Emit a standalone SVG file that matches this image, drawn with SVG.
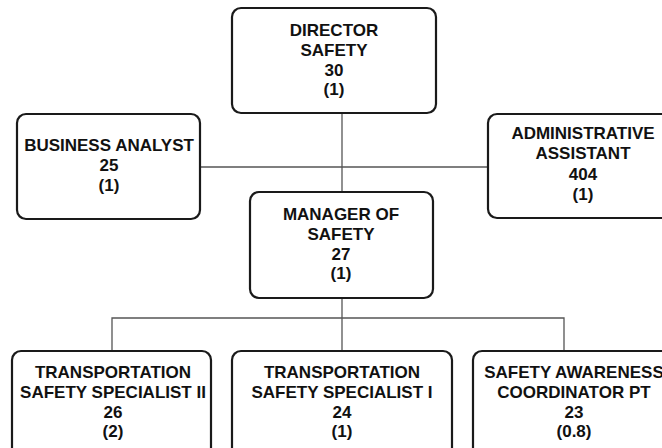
<svg xmlns="http://www.w3.org/2000/svg" width="662" height="448" viewBox="0 0 662 448">
<style>
.box{fill:#fff;stroke:#1a1a1a;stroke-width:2.2}
.t{font-family:"Liberation Sans",Arial,sans-serif;font-weight:bold;font-size:17px;text-anchor:middle;fill:#111}
.c{stroke:#555;stroke-width:1.3;fill:none}
</style>
<rect width="662" height="448" fill="#fff"/>
<g id="connectors">
<path class="c" d="M342,113V192"/>
<path class="c" d="M200,167H488"/>
<path class="c" d="M342,298V351"/>
<path class="c" d="M112,351V318H564V351"/>
</g>
<g id="director">
<rect class="box" x="232" y="8" width="204" height="105" rx="9"/>
<text class="t" x="334" y="36">DIRECTOR</text>
<text class="t" x="334" y="56">SAFETY</text>
<text class="t" x="334" y="76">30</text>
<text class="t" x="334" y="95">(1)</text>
</g>
<g id="business-analyst">
<rect class="box" x="17" y="114" width="183" height="105" rx="9"/>
<text class="t" x="109" y="151">BUSINESS ANALYST</text>
<text class="t" x="109" y="171">25</text>
<text class="t" x="109" y="191">(1)</text>
</g>
<g id="admin-assistant">
<rect class="box" x="488" y="114" width="190" height="104" rx="9"/>
<text class="t" x="583" y="139">ADMINISTRATIVE</text>
<text class="t" x="583" y="159">ASSISTANT</text>
<text class="t" x="583" y="180">404</text>
<text class="t" x="583" y="200">(1)</text>
</g>
<g id="manager">
<rect class="box" x="250" y="192" width="183" height="106" rx="9"/>
<text class="t" x="341" y="220">MANAGER OF</text>
<text class="t" x="341" y="240">SAFETY</text>
<text class="t" x="341" y="260">27</text>
<text class="t" x="341" y="279">(1)</text>
</g>
<g id="tss2">
<rect class="box" x="12" y="351" width="199" height="110" rx="9"/>
<text class="t" x="113" y="378">TRANSPORTATION</text>
<text class="t" x="113" y="398">SAFETY SPECIALIST II</text>
<text class="t" x="113" y="418">26</text>
<text class="t" x="113" y="437">(2)</text>
</g>
<g id="tss1">
<rect class="box" x="232" y="351" width="220" height="110" rx="9"/>
<text class="t" x="342" y="378">TRANSPORTATION</text>
<text class="t" x="342" y="398">SAFETY SPECIALIST I</text>
<text class="t" x="342" y="418">24</text>
<text class="t" x="342" y="437">(1)</text>
</g>
<g id="safety-awareness">
<rect class="box" x="473" y="351" width="202" height="110" rx="9"/>
<text class="t" x="574" y="378">SAFETY AWARENESS</text>
<text class="t" x="574" y="398">COORDINATOR PT</text>
<text class="t" x="574" y="418">23</text>
<text class="t" x="574" y="437">(0.8)</text>
</g>
</svg>
